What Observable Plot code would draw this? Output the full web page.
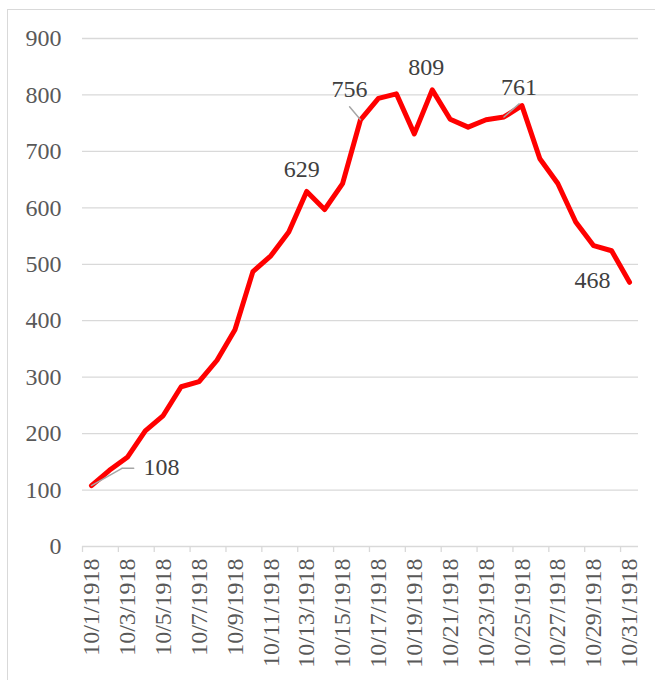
<!DOCTYPE html>
<html>
<head>
<meta charset="utf-8">
<script src="https://cdn.jsdelivr.net/npm/d3@7"></script>
<script src="https://cdn.jsdelivr.net/npm/@observablehq/plot@0.6"></script>
<style>
  html, body { margin: 0; padding: 0; background: #ffffff; }
  #wrap { position: relative; width: 655px; height: 680px; overflow: hidden; }
  #border { position: absolute; left: 7px; top: 9px; width: 700px; height: 700px;
            border-left: 1.5px solid #d9d9d9; border-top: 1.5px solid #d9d9d9; box-sizing: border-box; }
  #chart { position: absolute; left: 0; top: 0; }
  #chart svg, #chart svg text, #chart svg g { font-family: "Times New Roman", Times, "Liberation Serif", serif !important; }
</style>
</head>
<body>
<div id="wrap"><div id="border"></div><div id="chart"></div></div>
<script>
// ---- data ----
const dates = [
  "10/1/1918","10/2/1918","10/3/1918","10/4/1918","10/5/1918","10/6/1918","10/7/1918","10/8/1918",
  "10/9/1918","10/10/1918","10/11/1918","10/12/1918","10/13/1918","10/14/1918","10/15/1918","10/16/1918",
  "10/17/1918","10/18/1918","10/19/1918","10/20/1918","10/21/1918","10/22/1918","10/23/1918","10/24/1918",
  "10/25/1918","10/26/1918","10/27/1918","10/28/1918","10/29/1918","10/30/1918","10/31/1918"
];
const deaths = [
  108, 135, 158, 205, 232, 283, 292, 330,
  384, 487, 515, 557, 629, 597, 643, 756,
  794, 802, 731, 809, 757, 743, 756, 761,
  781, 687, 643, 575, 533, 524, 468
];
const labeledDates = ["10/1/1918", "10/13/1918", "10/16/1918", "10/20/1918", "10/24/1918", "10/31/1918"];
const yTickValues = [0, 100, 200, 300, 400, 500, 600, 700, 800, 900];

// ---- helpers ----
const parse = s => { const [m, d, y] = s.split("/").map(Number); return new Date(Date.UTC(y, m - 1, d)); };
const fmt = d => `${d.getUTCMonth() + 1}/${d.getUTCDate()}/${d.getUTCFullYear()}`;
const HALF_DAY = 12 * 3600 * 1000;

const table = dates.map((s, i) => ({date: parse(s), value: deaths[i]}));
const labelTicks = table.filter((r, i) => i % 2 === 0).map(r => r.date);
const boundaryTicks = table.filter((r, i) => i % 2 === 0).map(r => new Date(+r.date - HALF_DAY));
const xDomain = [new Date(+table[0].date - HALF_DAY), new Date(+table[table.length - 1].date + HALF_DAY)];

// label placement (pixels)
const labelStyle = {
  "10/1/1918":  {dx: 52, dy: -18, anchor: "start"},
  "10/13/1918": {dx: -5, dy: -22, anchor: "middle"},
  "10/16/1918": {dx: -11, dy: -30, anchor: "middle"},
  "10/20/1918": {dx: -6, dy: -23, anchor: "middle"},
  "10/24/1918": {dx: 15, dy: -30, anchor: "middle"},
  "10/31/1918": {dx: -37, dy: -2, anchor: "middle"}
};
const leaderStyle = [
  {date: "10/1/1918", dx: 0, dy: 0, length: 35, rotate: 60.6},
  {date: "10/1/1918", dx: 30.7, dy: -17.3, length: 11.5, rotate: 90},
  {date: "10/16/1918", dx: 0, dy: 0, length: 17, rotate: -40},
  {date: "10/24/1918", dx: 0, dy: 0, length: 20, rotate: 49}
];
const lineShape = { draw(context, l) { context.moveTo(0, 0); context.lineTo(0, -l); } };

const marks = [
  Plot.gridY({ticks: yTickValues, stroke: "#d9d9d9", strokeOpacity: 1, strokeWidth: 1.3}),
  Plot.axisY({ticks: yTickValues, tickSize: 0, tickPadding: 21, color: "#595959", fontSize: 24, label: null}),
  Plot.axisX({ticks: boundaryTicks, tickSize: 6, tickFormat: () => "", stroke: "#d9d9d9", strokeWidth: 1.3, label: null}),
  Plot.axisX({ticks: labelTicks, tickSize: 0, tickPadding: 12, tickRotate: -90, tickFormat: fmt, color: "#595959", fontSize: 24, label: null}),
  Plot.line(table, {x: "date", y: "value", stroke: "#ff0000", strokeWidth: 5,
    strokeLinejoin: "round", strokeLinecap: "round"})
];
for (const ls of leaderStyle) {
  const row = table[dates.indexOf(ls.date)];
  marks.push(Plot.vector([row], {x: "date", y: "value", anchor: "start", length: ls.length, rotate: ls.rotate,
    shape: lineShape, stroke: "#a6a6a6", strokeWidth: 1.5, dx: ls.dx, dy: ls.dy}));
}
for (const s of labeledDates) {
  const row = table[dates.indexOf(s)];
  const st = labelStyle[s];
  marks.push(Plot.text([row], {x: "date", y: "value", text: d => String(d.value), dx: st.dx, dy: st.dy,
    textAnchor: st.anchor, lineAnchor: "middle", fill: "#404040", fontSize: 24, fontFamily: "Times New Roman"}));
}

const chart = Plot.plot({
  width: 655,
  height: 680,
  marginLeft: 82,
  marginRight: 17,
  marginTop: 38,
  marginBottom: 134,
  style: {fontFamily: "Times New Roman", fontSize: "24px", background: "transparent"},
  x: {type: "utc", domain: xDomain, label: null, axis: null},
  y: {domain: [0, 900], label: null, axis: null},
  marks
});
document.getElementById("chart").appendChild(chart);
</script>
</body>
</html>
